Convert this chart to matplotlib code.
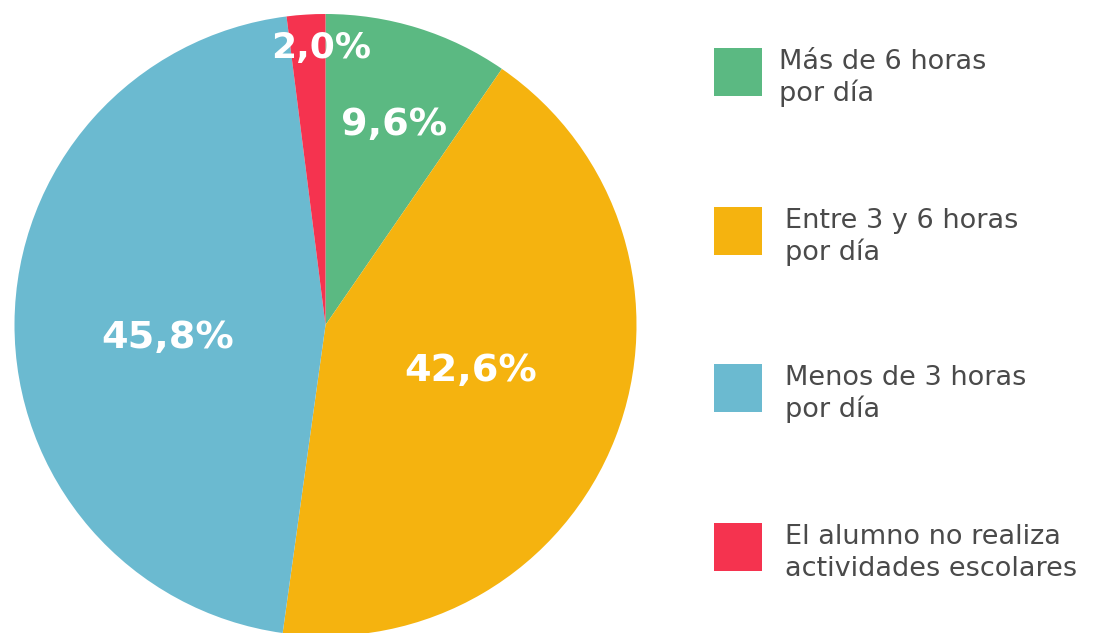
import numpy as np
import matplotlib
matplotlib.use("Agg")
import matplotlib.pyplot as plt
from matplotlib.patches import Rectangle

categories = ["Más de 6 horas\npor día",
              "Entre 3 y 6 horas\npor día",
              "Menos de 3 horas\npor día",
              "El alumno no realiza\nactividades escolares"]
values = [9.6, 42.6, 45.8, 2.0]
labels = ["9,6%", "42,6%", "45,8%", "2,0%"]
colors = ["#5BB982", "#F5B30F", "#6BBAD0", "#F5334F"]

W, H = 1096, 633
fig = plt.figure(figsize=(W / 100, H / 100), dpi=100)
ax = fig.add_axes([0, 0, 1, 1])

cx, cy, R = 325.5, H - 325, 311
wedges, _ = ax.pie(values, colors=colors, startangle=90, counterclock=False,
                   radius=R, center=(cx, cy),
                   wedgeprops=dict(linewidth=0))
ax.set_xlim(0, W)
ax.set_ylim(0, H)
ax.set_aspect("equal")
ax.axis("off")

# label positions (fraction of radius, angle offset in degrees)
label_r = [0.68, 0.49, 0.51, 0.89]
label_da = [-1.5, 3.5, 5.0, -2.7]
label_fs = [27.5, 27.5, 27.5, 26]
for w, lab, fr, da, fs in zip(wedges, labels, label_r, label_da, label_fs):
    ang = np.deg2rad((w.theta1 + w.theta2) / 2 + da)
    ax.text(cx + fr * R * np.cos(ang), cy + fr * R * np.sin(ang), lab,
            ha="center", va="center", color="white", fontsize=fs,
            fontweight="bold", family=["DejaVu Sans"])

# legend
sq_top = [48, 207, 364, 523]
text_x = [779, 785, 785, 785]
for top, col, cat, tx in zip(sq_top, colors, categories, text_x):
    ax.add_patch(Rectangle((714, H - top - 48), 48, 48, facecolor=col,
                           edgecolor="none"))
    ax.text(tx, H - top - 30, cat, ha="left", va="center", color="#4a4a4a",
            fontsize=19.5, family=["DejaVu Sans"], linespacing=1.25)

fig.savefig("out.png", dpi=100)
